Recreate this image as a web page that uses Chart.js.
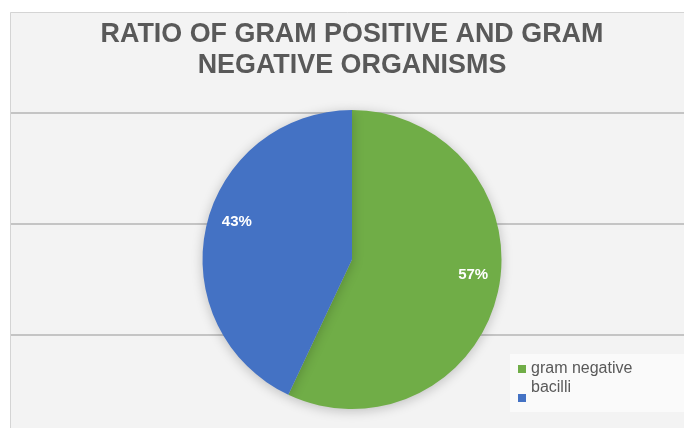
<!DOCTYPE html>
<html>
<head>
<meta charset="utf-8">
<script src="https://cdn.jsdelivr.net/npm/chart.js@4.4.1/dist/chart.umd.min.js"></script>
<style>
  html, body { margin: 0; padding: 0; background: #ffffff; }
  #wrap { position: relative; width: 684px; height: 428px; }
  canvas { display: block; }
</style>
</head>
<body>
<div id="wrap"><canvas id="c" width="684" height="428"></canvas></div>
<script>
// ---- data ----
const titleLines = ['RATIO OF GRAM POSITIVE AND GRAM', 'NEGATIVE ORGANISMS'];
const categories = ['gram negative', 'bacilli'];
const values = [57, 43];
const percentLabels = ['57%', '43%'];
const sliceColors = ['#70ad47', '#4472c4'];

// ---- background frame + horizontal rules ----
const backgroundPlugin = {
  id: 'bg',
  beforeDraw(chart) {
    const ctx = chart.ctx;
    ctx.save();
    ctx.fillStyle = '#ffffff';
    ctx.fillRect(0, 0, chart.width, chart.height);
    ctx.fillStyle = '#f3f3f3';
    ctx.fillRect(10, 12, chart.width - 10, chart.height - 12);
    ctx.strokeStyle = '#d4d4d4';
    ctx.lineWidth = 1;
    ctx.beginPath();
    ctx.moveTo(10.5, chart.height);
    ctx.lineTo(10.5, 12.5);
    ctx.lineTo(chart.width, 12.5);
    ctx.stroke();
    ctx.strokeStyle = '#c4c4c4';
    ctx.lineWidth = 2;
    [113, 224, 335].forEach(y => {
      ctx.beginPath();
      ctx.moveTo(11, y);
      ctx.lineTo(chart.width, y);
      ctx.stroke();
    });
    ctx.restore();
  }
};

// ---- title (slightly condensed bold, as in the reference) ----
const titlePlugin = {
  id: 'condensedTitle',
  afterDraw(chart) {
    const ctx = chart.ctx;
    const cx = 352;
    const baselines = [42, 73];
    ctx.save();
    ctx.fillStyle = '#595959';
    ctx.font = 'bold 28px "Liberation Sans", Arial, sans-serif';
    ctx.textAlign = 'center';
    ctx.textBaseline = 'alphabetic';
    titleLines.forEach((line, i) => {
      ctx.save();
      ctx.translate(cx, baselines[i]);
      ctx.scale(0.96, 1);
      ctx.fillText(line, 0, 0);
      ctx.restore();
    });
    ctx.restore();
  }
};

// ---- slight shadow under the pie ----
const shadowPlugin = {
  id: 'pieShadow',
  beforeDatasetsDraw(chart) {
    const ctx = chart.ctx;
    ctx.save();
    ctx.shadowColor = 'rgba(0,0,0,0.22)';
    ctx.shadowBlur = 12;
    ctx.shadowOffsetX = 0;
    ctx.shadowOffsetY = 2;
  },
  afterDatasetsDraw(chart) {
    chart.ctx.restore();
  }
};

// ---- percentage labels inside slices ----
const sliceLabelPlugin = {
  id: 'sliceLabels',
  afterDatasetsDraw(chart) {
    const ctx = chart.ctx;
    const meta = chart.getDatasetMeta(0);
    ctx.save();
    ctx.fillStyle = '#ffffff';
    ctx.font = 'bold 15px "Liberation Sans", Arial, sans-serif';
    ctx.textAlign = 'center';
    ctx.textBaseline = 'middle';
    meta.data.forEach((arc, i) => {
      const p = arc.getProps(['x', 'y', 'startAngle', 'endAngle', 'outerRadius'], true);
      const mid = (p.startAngle + p.endAngle) / 2;
      const r = p.outerRadius * 0.81;
      ctx.fillText(percentLabels[i], p.x + Math.cos(mid) * r + 3, p.y + Math.sin(mid) * r - 11);
    });
    ctx.restore();
  }
};

// ---- legend at lower right ----
const legendPlugin = {
  id: 'customLegend',
  afterDraw(chart) {
    const ctx = chart.ctx;
    const ds = chart.data.datasets[0];
    ctx.save();
    ctx.fillStyle = 'rgba(255,255,255,0.55)';
    ctx.fillRect(510, 354, 174, 58);
    ctx.font = '16px "Liberation Sans", Arial, sans-serif';
    ctx.textBaseline = 'alphabetic';
    ctx.textAlign = 'left';
    const rows = [
      { box: [518, 365], text: [531, 373] },
      { box: [518, 394], text: [531, 392] }
    ];
    chart.data.labels.forEach((lab, i) => {
      ctx.fillStyle = ds.backgroundColor[i];
      ctx.fillRect(rows[i].box[0], rows[i].box[1], 8, 8);
      ctx.fillStyle = '#595959';
      ctx.fillText(lab, rows[i].text[0], rows[i].text[1]);
    });
    ctx.restore();
  }
};

new Chart(document.getElementById('c'), {
  type: 'pie',
  data: {
    labels: categories,
    datasets: [{
      data: values,
      backgroundColor: sliceColors,
      borderWidth: 0,
      hoverOffset: 0
    }]
  },
  options: {
    responsive: false,
    animation: false,
    devicePixelRatio: 1,
    layout: { padding: { left: 20, right: 0, top: 110, bottom: 19 } },
    plugins: {
      legend: { display: false },
      tooltip: { enabled: false },
      title: { display: false }
    }
  },
  plugins: [backgroundPlugin, shadowPlugin, sliceLabelPlugin, legendPlugin, titlePlugin]
});
</script>
</body>
</html>
